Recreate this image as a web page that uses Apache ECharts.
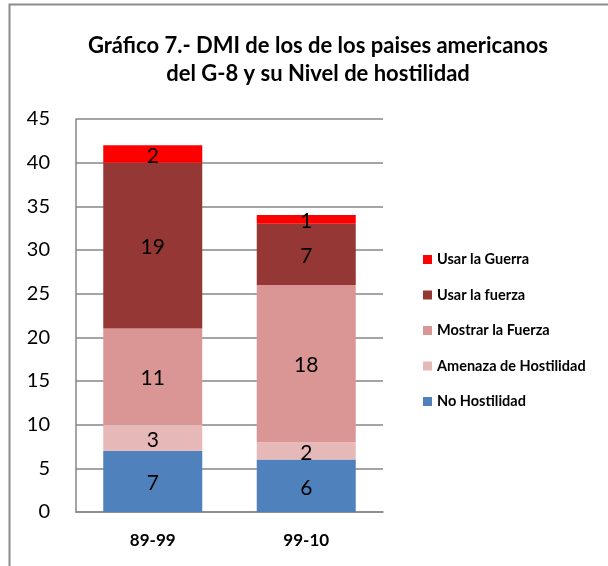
<!DOCTYPE html>
<html><head><meta charset="utf-8">
<script src="https://cdn.jsdelivr.net/npm/echarts@6/dist/echarts.min.js"></script>
<style>html,body{margin:0;padding:0;background:#fff}#c{width:608px;height:566px}</style>
</head><body><div id="c"></div>
<script>
const categories = ['89-99', '99-10'];
const noHostilidad = [7, 6];
const amenaza = [3, 2];
const mostrar = [11, 18];
const usarFuerza = [19, 7];
const usarGuerra = [2, 1];
const seriesNames = ['No Hostilidad', 'Amenaza de Hostilidad', 'Mostrar la Fuerza', 'Usar la fuerza', 'Usar la Guerra'];
const seriesColors = ['#4F81BD', '#E6B9B8', '#D99694', '#953735', '#FF0000'];
const seriesData = [noHostilidad, amenaza, mostrar, usarFuerza, usarGuerra];
const yTicks = [0, 45, 5];
const FONT = 'Lato, "Open Sans", sans-serif';

const chart = echarts.init(document.getElementById('c'));
chart.setOption({
  backgroundColor: '#fff',
  animation: false,
  textStyle: { fontFamily: FONT },
  title: {
    text: 'Gráfico 7.- DMI de los de los paises americanos\ndel G-8 y su Nivel de hostilidad',
    left: 313, top: 27, textAlign: 'center',
    textStyle: { fontFamily: FONT, fontSize: 22, fontWeight: 'bold', color: '#000', lineHeight: 28 }
  },
  graphic: [{
    type: 'rect', left: 7, top: 2, silent: true,
    shape: { width: 640, height: 600 },
    style: { fill: 'none', stroke: '#8c8c8c', lineWidth: 2 }
  }],
  legend: {
    orient: 'vertical', left: 418, top: 247,
    itemWidth: 9, itemHeight: 9, itemGap: 20.5,
    icon: 'rect',
    data: seriesNames.slice().reverse(),
    textStyle: { fontFamily: FONT, fontSize: 14.5, fontWeight: 'bold', color: '#000', lineHeight: 15 }
  },
  grid: { left: 76, right: 225, top: 119, bottom: 54, containLabel: false },
  xAxis: {
    type: 'category', data: categories,
    axisLine: { lineStyle: { color: '#868686', width: 1.5 } },
    axisTick: { show: false },
    axisLabel: { fontFamily: FONT, fontSize: 17, fontWeight: 'bold', color: '#000', margin: 20 }
  },
  yAxis: {
    type: 'value', min: yTicks[0], max: yTicks[1], interval: yTicks[2],
    axisLine: { show: true, lineStyle: { color: '#868686', width: 1.5 } },
    axisTick: { show: false },
    axisLabel: { fontFamily: FONT, fontSize: 20, color: '#000', margin: 26 },
    splitLine: { lineStyle: { color: '#868686', width: 1.5 } }
  },
  series: seriesNames.map((n, i) => ({
    name: n, type: 'bar', stack: 'total', barWidth: '64.5%',
    data: seriesData[i],
    itemStyle: { color: seriesColors[i] },
    label: { show: true, position: 'inside', offset: [0, 2], fontFamily: FONT, fontSize: 21, color: '#000' }
  }))
});
</script></body></html>
